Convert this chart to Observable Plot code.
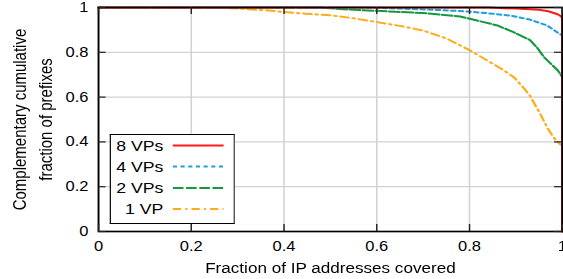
<!DOCTYPE html>
<html>
<head>
<meta charset="utf-8">
<script src="https://cdn.jsdelivr.net/npm/d3@7"></script>
<script src="https://cdn.jsdelivr.net/npm/@observablehq/plot@0.6"></script>
<style>
  html, body { margin: 0; padding: 0; background: #fff; overflow: hidden; }
  #outer { position: relative; width: 563px; height: 279px; overflow: hidden; }
  #wrap { position: absolute; left: 0; top: 0; width: 477px; height: 279px; transform: scaleX(1.18); transform-origin: 0 0; font-family: "Liberation Sans", Arial, sans-serif; }
  #legend { position: absolute; left: 92.5px; top: 134px; width: 106px; height: 90px; border: 1px solid #000; border-right: 1.6px solid #333; background: #fff; box-sizing: border-box; }
</style>
</head>
<body>
<div id="outer"><div id="wrap"></div></div>
<script>
// ---- data ----
const seriesNames = ["8 VPs", "4 VPs", "2 VPs", "1 VP"];
const seriesColors = ["#ff1a1a", "#1ea0dc", "#14993f", "#ffab1a"];
const seriesDash = [null, "3.5,3", "9,2.2", "7,3.5,1.8,3.5"];

const x8 = [0, 0.84, 0.9, 0.95, 0.97, 0.99, 0.998, 1, 1];
const y8 = [1, 1, 0.995, 0.99, 0.983, 0.97, 0.96, 0.95, 0];

const x4 = [0, 0.58, 0.65, 0.72, 0.8, 0.85, 0.89, 0.93, 0.967, 0.99, 1, 1];
const y4 = [1, 1, 0.995, 0.99, 0.982, 0.972, 0.963, 0.946, 0.92, 0.888, 0.875, 0];

const x2 = [0, 0.48, 0.52, 0.6, 0.7, 0.78, 0.82, 0.86, 0.895, 0.93, 0.946, 0.96, 0.98, 0.99, 1, 1];
const y2 = [1, 1, 0.993, 0.985, 0.975, 0.96, 0.94, 0.92, 0.89, 0.855, 0.82, 0.78, 0.74, 0.72, 0.69, 0];

const x1 = [0, 0.25, 0.3, 0.36, 0.4, 0.45, 0.5, 0.55, 0.6, 0.65, 0.7, 0.75, 0.8, 0.845, 0.87, 0.895, 0.915, 0.93, 0.952, 0.97, 0.985, 0.995, 1, 1];
const y1 = [1, 1, 0.995, 0.988, 0.98, 0.972, 0.965, 0.952, 0.935, 0.918, 0.897, 0.862, 0.81, 0.755, 0.725, 0.69, 0.645, 0.607, 0.527, 0.455, 0.41, 0.39, 0.385, 0];

const xTicks = [0, 0.2, 0.4, 0.6, 0.8, 1];
const xTickLabels = ["0", "0.2", "0.4", "0.6", "0.8", "1"];
const yTicks = [0, 0.2, 0.4, 0.6, 0.8, 1];
const yTickLabels = ["0", "0.2", "0.4", "0.6", "0.8", "1"];

const xLabel = "Fraction of IP addresses covered";
const yLabel = "Complementary cumulative\nfraction of prefixes";

// ---- build ----
const xs = [x8, x4, x2, x1];
const ys = [y8, y4, y2, y1];
const series = seriesNames.map((name, i) => ({
  name, color: seriesColors[i], dash: seriesDash[i],
  points: xs[i].map((x, j) => ({x, y: ys[i][j]}))
}));

const font = "Liberation Sans, Arial, sans-serif";
const W = 477, ML = 83, MR = 1, MT = 7, MB = 48;
const innerW = W - ML - MR, innerH = 279 - MT - MB;

const marks = [
  Plot.gridX(xTicks, {stroke: "#d2d2d2", strokeOpacity: 1, strokeWidth: 1.3}),
  Plot.gridY(yTicks, {stroke: "#d2d2d2", strokeOpacity: 1, strokeWidth: 1.3}),
];
for (const s of series.slice().reverse()) {
  marks.push(Plot.line(s.points, {x: "x", y: "y", stroke: s.color, strokeWidth: 2, strokeDasharray: s.dash, strokeLinejoin: "round"}));
}
marks.push(
  Plot.frame({stroke: "#000", strokeWidth: 1.6}),
  Plot.tickX(xTicks, {x: d => d, stroke: "#222", strokeWidth: 1.2, insetTop: innerH - 7}),
  Plot.tickX(xTicks, {x: d => d, stroke: "#222", strokeWidth: 1.2, insetBottom: innerH - 7}),
  Plot.tickY(yTicks, {y: d => d, stroke: "#222", strokeWidth: 1.2, insetRight: innerW - 6.5}),
  Plot.tickY(yTicks, {y: d => d, stroke: "#222", strokeWidth: 1.2, insetLeft: innerW - 6.5}),
  Plot.axisX({ticks: xTicks, tickFormat: d => xTickLabels[xTicks.indexOf(d)], tickSize: 0, tickPadding: 10, fontSize: 14, label: null, fill: "#000"}),
  Plot.axisY({ticks: yTicks, tickFormat: d => yTickLabels[yTicks.indexOf(d)], tickSize: 0, tickPadding: 8.5, fontSize: 14, label: null, fill: "#000"}),
  Plot.text([xLabel], {frameAnchor: "bottom", text: d => d, dy: 31.5, lineAnchor: "top", textAnchor: "middle", fontSize: 14.5, fill: "#000"}),
  Plot.text([yLabel], {frameAnchor: "left", text: d => d, dx: -57.5, rotate: -90, textAnchor: "middle", lineAnchor: "middle", lineHeight: 1.5, fontSize: 15, fill: "#000"})
);

const chart = Plot.plot({
  width: W,
  height: 279,
  marginLeft: ML,
  marginRight: MR,
  marginTop: MT,
  marginBottom: MB,
  x: {domain: [0, 1]},
  y: {domain: [0, 1]},
  style: {fontFamily: font, fontSize: "14px", color: "#000", background: "#fff", overflow: "visible"},
  marks
});

const wrap = document.getElementById("wrap");
wrap.appendChild(chart);

// legend
const leg = document.createElement("div");
leg.id = "legend";
wrap.appendChild(leg);
const lsvg = d3.select(leg).append("svg").attr("width", 104).attr("height", 88)
  .style("position", "absolute").style("left", "0px").style("top", "0px");
const rowY = [10.5, 31.5, 53, 74];
series.forEach((s, i) => {
  lsvg.append("text").attr("x", 44.5).attr("y", rowY[i]).attr("dy", "0.35em")
    .attr("text-anchor", "end").attr("font-family", font).attr("font-size", 15).attr("fill", "#000").text(s.name);
  lsvg.append("line").attr("x1", 52.5).attr("x2", 95.5).attr("y1", rowY[i]).attr("y2", rowY[i])
    .attr("stroke", s.color).attr("stroke-width", 2).attr("stroke-dasharray", s.dash);
});
</script>
</body>
</html>
